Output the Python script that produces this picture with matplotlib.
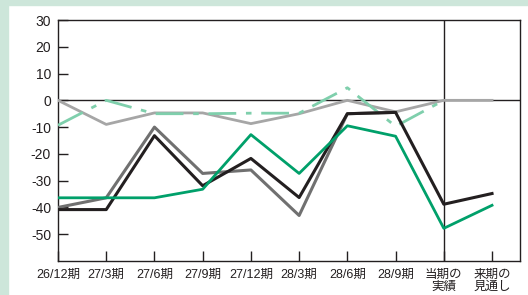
import matplotlib
matplotlib.use("Agg")
import matplotlib.pyplot as plt
from matplotlib.patches import Rectangle

plt.rcParams['font.family'] = ['Liberation Sans', 'Noto Sans CJK JP', 'DejaVu Sans']

categories = ["26/12期", "27/3期", "27/6期", "27/9期", "27/12期", "28/3期",
              "28/6期", "28/9期", "当期の\n実績", "来期の\n見通し"]
light_gray = [0, -9, -4.7, -4.7, -8.7, -5, 0, -4.3, 0, 0]
dashdot_green = [-9.3, 0, -5, -5, -4.8, -4.8, 4.7, -9.7, 0]
dark_gray = [-40, -36.4, -10, -27.3, -26, -43, -5, -4.5]
black = [-40.8, -40.8, -13.2, -31.9, -21.7, -36.3, -5, -4.5, -38.8, -34.8]
green = [-36.4, -36.4, -36.4, -33.2, -12.8, -27.3, -9.5, -13.4, -47.8, -39.2]
yticks = [30, 20, 10, 0, -10, -20, -30, -40, -50]

fig = plt.figure(figsize=(5.28, 2.95), dpi=100)
fig.patch.set_facecolor('white')
bg = '#cde6da'
fig.patches.append(Rectangle((0, 0), 8/528, 1, transform=fig.transFigure, color=bg, zorder=0))
fig.patches.append(Rectangle((0, 1 - 5/295), 1, 5/295, transform=fig.transFigure, color=bg, zorder=0))

ax = fig.add_axes([58/528, 1 - 261/295, (520 - 58)/528, (261 - 20)/295])
x = list(range(len(categories)))

ax.plot(x[:len(light_gray)], light_gray, color='#a6a6a6', lw=2, zorder=3)
ax.plot(x[:len(dashdot_green)], dashdot_green, color='#7fcfac', lw=2,
        dashes=(10, 3.5, 2, 3.5), zorder=3)
ax.plot(x[:len(dark_gray)], dark_gray, color='#707070', lw=2.2, zorder=4)
ax.plot(x[:len(black)], black, color='#231f20', lw=2.2, zorder=5)
ax.plot(x[:len(green)], green, color='#00a06a', lw=2, zorder=6)

ax.axhline(0, color='#231f20', lw=1, zorder=2)
ax.axvline(8, color='#231f20', lw=1, zorder=2)

ax.set_xlim(0, 9.58)
ax.set_ylim(-60, 30)
ax.set_yticks(yticks)
ax.set_yticklabels([str(v) for v in yticks], fontsize=10, color='#231f20')
ax.set_xticks(x)
ax.set_xticklabels(categories, fontsize=9, linespacing=0.9, color='#231f20')
ax.tick_params(axis='both', direction='in', length=7, width=1, color='#231f20')
ax.tick_params(axis='x', pad=6)
ax.tick_params(axis='y', pad=5)
for s in ax.spines.values():
    s.set_color('#231f20')
    s.set_linewidth(1)

fig.savefig('out.png', dpi=100)
